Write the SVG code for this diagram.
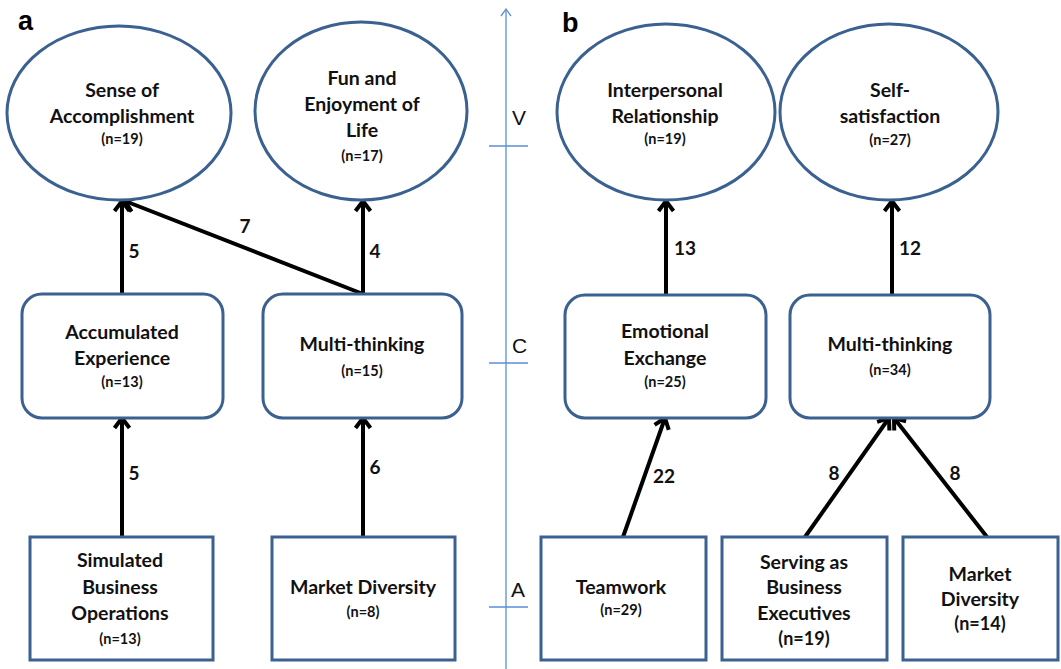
<svg xmlns="http://www.w3.org/2000/svg" width="1061" height="669" viewBox="0 0 1061 669">
<style>
.node{fill:#fff;stroke:#3a6190;stroke-width:3}
.t{font-family:Lato,"Liberation Sans",sans-serif;font-weight:700;font-size:19.5px;fill:#111;text-anchor:middle}
.n{font-size:14.5px}
.nb{font-size:18px}
.lbl{font-family:Lato,"Liberation Sans",sans-serif;font-weight:700;font-size:19px;fill:#111;text-anchor:middle}
.ax{stroke:#5b8fd3;stroke-width:1.3;fill:none}
.axl{font-family:"Liberation Sans",Arial,sans-serif;font-size:21px;fill:#111}
.panel{font-family:"Liberation Sans",Arial,sans-serif;font-weight:700;font-size:27px;fill:#000}
.edge{stroke:#000;stroke-width:4;fill:none;marker-end:url(#ah)}
</style>
<defs>
<marker id="ah" markerUnits="userSpaceOnUse" markerWidth="30" markerHeight="30" viewBox="-15 -15 30 30" refX="0" refY="0" orient="auto">
<path d="M-10,-7.5 L0,0 L-10,7.5" fill="none" stroke="#000" stroke-width="4" stroke-linejoin="miter"/>
</marker>
<marker id="axh" markerUnits="userSpaceOnUse" markerWidth="20" markerHeight="20" viewBox="-10 -10 20 20" refX="0" refY="0" orient="auto">
<path d="M-7,-5 L0,0 L-7,5" fill="none" stroke="#5b8fd3" stroke-width="1.3"/>
</marker>
</defs>
<rect width="1061" height="669" fill="#fff"/>

<g id="axis">
<line class="ax" x1="506" y1="669" x2="506" y2="9" marker-end="url(#axh)"/>
<line class="ax" x1="489" y1="146" x2="528" y2="146"/>
<line class="ax" x1="489" y1="363" x2="528" y2="363"/>
<line class="ax" x1="489" y1="607" x2="528" y2="607"/>
<text class="axl" x="512" y="125">V</text>
<text class="axl" x="512" y="353">C</text>
<text class="axl" x="511" y="597">A</text>
</g>

<text class="panel" x="18" y="30">a</text>
<text class="panel" x="562" y="32">b</text>

<g id="connectors">
<line class="edge" x1="122" y1="294" x2="122" y2="201"/>
<line class="edge" x1="363" y1="294" x2="125" y2="201"/>
<line class="edge" x1="363" y1="294" x2="363" y2="201"/>
<line class="edge" x1="122" y1="537" x2="122" y2="418"/>
<line class="edge" x1="363" y1="537" x2="363" y2="418"/>
<line class="edge" x1="666" y1="295" x2="666" y2="201"/>
<line class="edge" x1="892" y1="295" x2="892" y2="201"/>
<line class="edge" x1="623" y1="537" x2="665" y2="418"/>
<line class="edge" x1="805" y1="537" x2="889" y2="418"/>
<line class="edge" x1="987" y1="537" x2="894" y2="418"/>
<text class="lbl" x="134" y="258">5</text>
<text class="lbl" x="245" y="233">7</text>
<text class="lbl" x="375" y="258">4</text>
<text class="lbl" x="134" y="480">5</text>
<text class="lbl" x="375" y="474">6</text>
<text class="lbl" x="685" y="255">13</text>
<text class="lbl" x="910" y="255">12</text>
<text class="lbl" x="664" y="483">22</text>
<text class="lbl" x="834" y="480">8</text>
<text class="lbl" x="955" y="480">8</text>
</g>

<g id="sense">
<ellipse class="node" cx="119" cy="113" rx="112" ry="87"/>
<text class="t" x="122" y="97">Sense of</text>
<text class="t" x="122" y="123">Accomplishment</text>
<text class="t n" x="122" y="144">(n=19)</text>
</g>
<g id="fun">
<ellipse class="node" cx="361" cy="111" rx="106" ry="89"/>
<text class="t" x="362" y="85">Fun and</text>
<text class="t" x="362" y="111">Enjoyment of</text>
<text class="t" x="362" y="137">Life</text>
<text class="t n" x="362" y="161">(n=17)</text>
</g>
<g id="interpersonal">
<ellipse class="node" cx="666" cy="112" rx="109" ry="88"/>
<text class="t" x="665" y="97">Interpersonal</text>
<text class="t" x="665" y="123">Relationship</text>
<text class="t n" x="665" y="144">(n=19)</text>
</g>
<g id="selfsat">
<ellipse class="node" cx="889" cy="112" rx="109" ry="88"/>
<text class="t" x="890" y="97">Self-</text>
<text class="t" x="890" y="123">satisfaction</text>
<text class="t n" x="890" y="145">(n=27)</text>
</g>

<g id="accum">
<rect class="node" x="22" y="294" width="201" height="124" rx="20"/>
<text class="t" x="122" y="339">Accumulated</text>
<text class="t" x="122" y="365">Experience</text>
<text class="t n" x="122" y="387">(n=13)</text>
</g>
<g id="multi-a">
<rect class="node" x="263" y="294" width="199" height="124" rx="20"/>
<text class="t" x="362" y="351">Multi-thinking</text>
<text class="t n" x="362" y="376">(n=15)</text>
</g>
<g id="emotional">
<rect class="node" x="565" y="295" width="201" height="123" rx="20"/>
<text class="t" x="665" y="338">Emotional</text>
<text class="t" x="665" y="365">Exchange</text>
<text class="t n" x="665" y="387">(n=25)</text>
</g>
<g id="multi-b">
<rect class="node" x="790" y="295" width="200" height="123" rx="20"/>
<text class="t" x="890" y="351">Multi-thinking</text>
<text class="t n" x="890" y="375">(n=34)</text>
</g>

<g id="simulated">
<rect class="node" x="30" y="537" width="183" height="123"/>
<text class="t" x="120" y="567">Simulated</text>
<text class="t" x="120" y="594">Business</text>
<text class="t" x="120" y="620">Operations</text>
<text class="t n" x="120" y="644">(n=13)</text>
</g>
<g id="market-a">
<rect class="node" x="272" y="537" width="183" height="123"/>
<text class="t" x="363" y="594">Market Diversity</text>
<text class="t n" x="363" y="617">(n=8)</text>
</g>
<g id="teamwork">
<rect class="node" x="541" y="537" width="165" height="123"/>
<text class="t" x="621" y="594">Teamwork</text>
<text class="t n" x="621" y="615">(n=29)</text>
</g>
<g id="serving">
<rect class="node" x="722" y="537" width="165" height="123"/>
<text class="t" x="804" y="569">Serving as</text>
<text class="t" x="804" y="594">Business</text>
<text class="t" x="804" y="620">Executives</text>
<text class="t nb" x="804" y="645">(n=19)</text>
</g>
<g id="market-b">
<rect class="node" x="903" y="537" width="155" height="123"/>
<text class="t" x="980" y="581">Market</text>
<text class="t" x="980" y="606">Diversity</text>
<text class="t nb" x="980" y="630">(n=14)</text>
</g>
</svg>
